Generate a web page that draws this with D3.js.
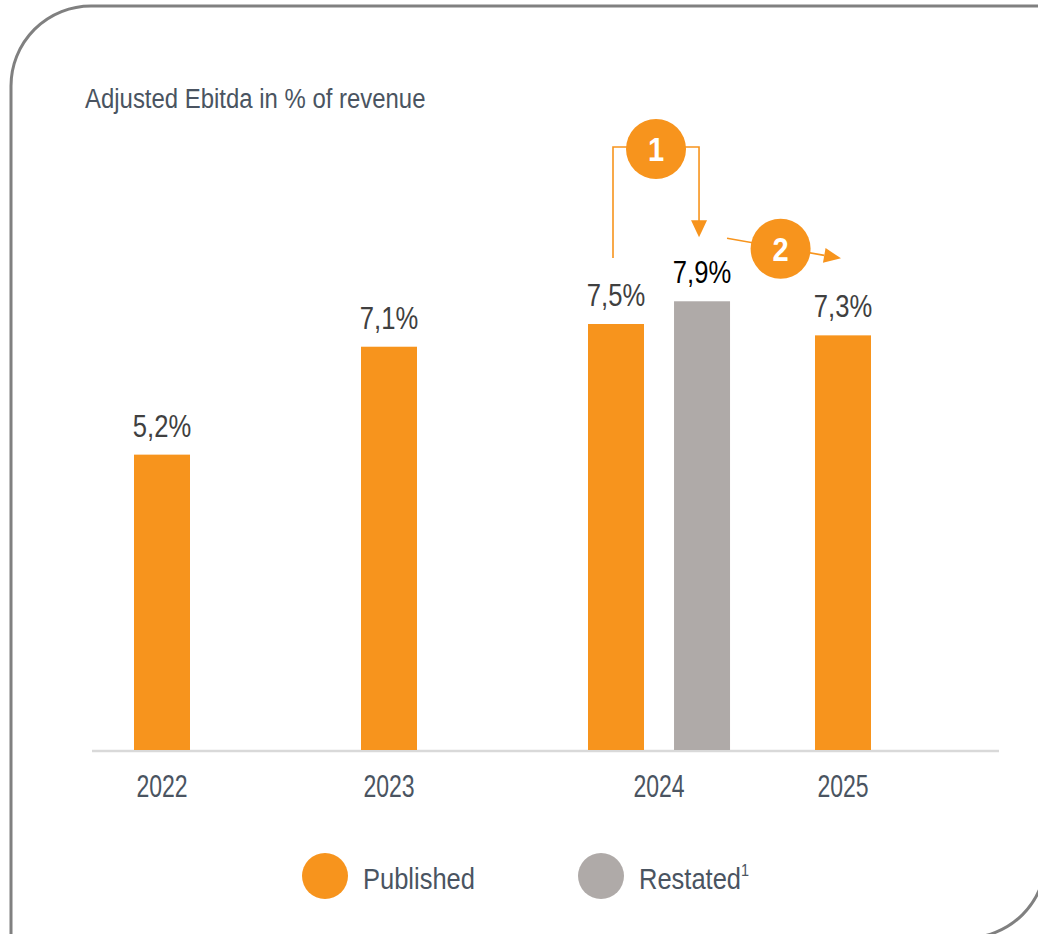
<!DOCTYPE html>
<html>
<head>
<meta charset="utf-8">
<script src="https://cdn.jsdelivr.net/npm/d3@7"></script>
<style>
  html, body { margin: 0; padding: 0; background: #fff; }
  svg { display: block; font-family: "Liberation Sans", Arial, sans-serif; }
</style>
</head>
<body>
<svg id="chart" width="1038" height="934"></svg>
<script>
// ---- data ----
const title = "Adjusted Ebitda in % of revenue";
const years = ["2022", "2023", "2024", "2025"];
const published = [5.2, 7.1, 7.5, 7.3];
const restatedYears = ["2024"];
const restated = [7.9];
const legendLabels = ["Published", "Restated"];
const legendSup = ["", "1"];
const annotationNumbers = ["1", "2"];

// ---- style ----
const ORANGE = "#f7941d";
const GREY = "#afaaa8";
const TEXT = "#4a5461";
const BAR_W = 56;

const svg = d3.select("#chart");
const fmt = d3.formatLocale({ decimal: ",", thousands: ".", grouping: [3], currency: ["", "€"] }).format(".1f");

// frame: rounded top-left and bottom-right corners
(function frame() {
  const L = 11, T = 6, R = 1046, B = 938, r = 80;
  const p = d3.path();
  p.moveTo(L, B + 10);
  p.lineTo(L, T + r);
  p.arcTo(L, T, L + r, T, r);
  p.lineTo(R + 10, T);
  p.moveTo(R, T);
  p.lineTo(R, B - r);
  p.arcTo(R, B, R - r, B, r);
  p.lineTo(L, B);
  svg.append("path").attr("d", p.toString())
    .attr("fill", "none").attr("stroke", "#808080").attr("stroke-width", 3);
})();

// scales
const slot = d3.scaleLinear().domain([0, years.length - 1]).range([162, 843]);
const RESTATED_OFFSET = 0.379; // fraction of a slot between published and restated bars
const y = d3.scaleLinear().domain([0, 10]).range([750, 182]);

function sText(sel, x, yy, s, sx) {
  return sel.append("text").attr("transform", `translate(${x},${yy}) scale(${sx},1)`)
    .attr("font-size", s);
}

// title
sText(svg, 85, 108, 28, 0.855).attr("fill", TEXT).text(title);

// axis baseline
svg.append("line").attr("x1", 92).attr("x2", 999).attr("y1", y(0) + 1).attr("y2", y(0) + 1)
  .attr("stroke", "#d9d9d9").attr("stroke-width", 2.5);

// published bars
const pubData = years.map((yr, i) => ({ year: yr, i, v: published[i] }));
svg.selectAll("rect.pub").data(pubData).enter().append("rect")
  .attr("class", "pub")
  .attr("x", d => slot(d.i) - BAR_W / 2)
  .attr("y", d => y(d.v))
  .attr("width", BAR_W)
  .attr("height", d => y(0) - y(d.v))
  .attr("fill", ORANGE);

// restated bars
const resData = restatedYears.map((yr, k) => ({ year: yr, i: years.indexOf(yr) + RESTATED_OFFSET, v: restated[k] }));
svg.selectAll("rect.res").data(resData).enter().append("rect")
  .attr("class", "res")
  .attr("x", d => slot(d.i) - BAR_W / 2)
  .attr("y", d => y(d.v))
  .attr("width", BAR_W)
  .attr("height", d => y(0) - y(d.v))
  .attr("fill", GREY);

// value labels
pubData.forEach(d => {
  sText(svg, slot(d.i), y(d.v) - 18, 32, 0.8).attr("text-anchor", "middle")
    .attr("fill", "#404040").text(fmt(d.v) + "%");
});
resData.forEach(d => {
  sText(svg, slot(d.i), y(d.v) - 18, 32, 0.8).attr("text-anchor", "middle")
    .attr("fill", "#000").text(fmt(d.v) + "%");
});

// year labels
years.forEach((yr, i) => {
  const hasRes = restatedYears.includes(yr);
  const cx = hasRes ? slot(i + RESTATED_OFFSET / 2) : slot(i);
  sText(svg, cx, 797, 32, 0.72).attr("text-anchor", "middle").attr("fill", TEXT).text(yr);
});

// ---- annotations ----
const ann = svg.append("g");
const i24 = years.indexOf("2024");
const i25 = years.indexOf("2025");
const leftX = slot(i24) - 3;
const rightX = slot(i24 + RESTATED_OFFSET) - 3;
const topY = 147;
const c1x = (leftX + rightX) / 2;
const tip1Y = y(restated[0]) - 64;

ann.append("path")
  .attr("d", `M${leftX},${y(published[i24]) - 66} L${leftX},${topY} L${rightX},${topY} L${rightX},${tip1Y - 14}`)
  .attr("fill", "none").attr("stroke", ORANGE).attr("stroke-width", 1.6);
ann.append("path")
  .attr("d", `M${rightX - 8},${tip1Y - 17} L${rightX + 8},${tip1Y - 17} L${rightX},${tip1Y} Z`)
  .attr("fill", ORANGE);

// arrow 2
const a2x0 = slot(i24 + RESTATED_OFFSET) + BAR_W / 2 - 3, a2y0 = tip1Y + 1;
const a2x1 = slot(i25) - 2, a2y1 = y(published[i25]) - 77;
const ang = Math.atan2(a2y1 - a2y0, a2x1 - a2x0);
const hl = 17, hw = 7.5;
const bx = a2x1 - hl * Math.cos(ang), by = a2y1 - hl * Math.sin(ang);
ann.append("line").attr("x1", a2x0).attr("y1", a2y0).attr("x2", bx).attr("y2", by)
  .attr("stroke", ORANGE).attr("stroke-width", 1.6);
ann.append("path")
  .attr("d", `M${a2x1},${a2y1} L${bx - hw * Math.sin(ang)},${by + hw * Math.cos(ang)} L${bx + hw * Math.sin(ang)},${by - hw * Math.cos(ang)} Z`)
  .attr("fill", ORANGE);
const c2x = a2x0 + (a2x1 - a2x0) * 0.47;
const c2y = a2y0 + (a2y1 - a2y0) * 0.47 + 1;

const circles = [{ x: c1x, y: topY + 2, n: annotationNumbers[0] }, { x: c2x, y: c2y, n: annotationNumbers[1] }];
circles.forEach(c => {
  ann.append("circle").attr("cx", c.x).attr("cy", c.y).attr("r", 30).attr("fill", ORANGE);
  sText(ann, c.x, c.y + 12, 33, 0.88).attr("text-anchor", "middle").attr("fill", "#fff")
    .attr("font-weight", "bold").text(c.n);
});

// ---- legend ----
const legendColors = [ORANGE, GREY];
const legendX = [325, 601];
legendLabels.forEach((lab, k) => {
  svg.append("circle").attr("cx", legendX[k]).attr("cy", 876).attr("r", 23).attr("fill", legendColors[k]);
  const t = sText(svg, legendX[k] + 38, 889, 30, 0.85).attr("fill", TEXT);
  t.append("tspan").text(lab);
  if (legendSup[k]) t.append("tspan").attr("font-size", 17).attr("dy", -13).text(legendSup[k]);
});
</script>
</body>
</html>
